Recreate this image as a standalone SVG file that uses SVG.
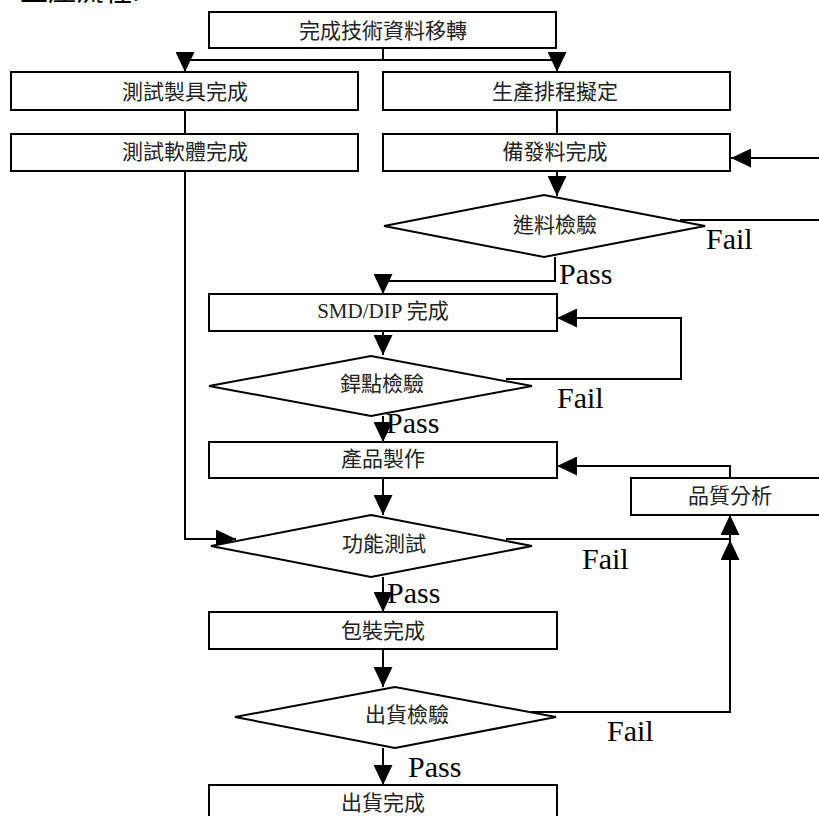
<svg xmlns="http://www.w3.org/2000/svg" width="819" height="816" viewBox="0 0 819 816">
<style>
.box{fill:#fff;stroke:#000;stroke-width:2}
.dia{fill:#fff;stroke:#000;stroke-width:2}
.ln{fill:none;stroke:#000;stroke-width:2}
.arr{fill:none;stroke:#000;stroke-width:2;marker-end:url(#ah)}
.t{font-family:"Liberation Serif","Noto Sans CJK TC",serif;font-size:21px;fill:#222;text-anchor:middle}
.lab{font-family:"Liberation Serif",serif;font-size:30px;fill:#000}
.title{font-family:"Noto Sans CJK TC",sans-serif;font-size:28px;fill:#000}
</style>
<defs>
<marker id="ah" markerUnits="userSpaceOnUse" markerWidth="20" markerHeight="19" refX="20" refY="9.5" orient="auto">
<path d="M0,0 L20,9.5 L0,19 z" fill="#000"/>
</marker>
</defs>
<rect width="819" height="816" fill="#fff"/>
<text class="title" x="20" y="1">生產流程:</text>
<g id="connectors">
<path class="arr" d="M383,48 V60 H185 V72"/>
<path class="arr" d="M383,60 H557 V72"/>
<path class="ln" d="M185,110 V134"/>
<path class="ln" d="M557,110 V134"/>
<path class="arr" d="M557,171 V196"/>
<path class="arr" d="M680,220 H840 V158 H731"/>
<path class="arr" d="M555,257 V281 H383 V294"/>
<path class="arr" d="M383,331 V355"/>
<path class="arr" d="M506,379 H681 V318 H557"/>
<path class="arr" d="M383,416 V442"/>
<path class="arr" d="M383,478 V515"/>
<path class="arr" d="M730,478 V466 H557"/>
<path class="arr" d="M185,171 V539 H236"/>
<path class="arr" d="M506,539 H730 V515"/>
<path class="arr" d="M383,577 V612"/>
<path class="arr" d="M383,649 V687"/>
<path class="arr" d="M531,712 H730 V540"/>
<path class="arr" d="M383,748 V785"/>
</g>
<g id="n1"><rect class="box" x="209" y="12" width="347" height="36"/><text class="t" x="383" y="37.5">完成技術資料移轉</text></g>
<g id="n2"><rect class="box" x="11" y="72" width="347" height="38"/><text class="t" x="185" y="98.5">測試製具完成</text></g>
<g id="n3"><rect class="box" x="383" y="72" width="347" height="38"/><text class="t" x="555" y="98.5">生產排程擬定</text></g>
<g id="n4"><rect class="box" x="11" y="134" width="347" height="37"/><text class="t" x="185" y="158.5">測試軟體完成</text></g>
<g id="n5"><rect class="box" x="383" y="134" width="347" height="37"/><text class="t" x="555" y="158.5">備發料完成</text></g>
<g id="d1"><polygon class="dia" points="384,226 544,195 705,226 544,257"/><text class="t" x="555" y="231.5">進料檢驗</text></g>
<g id="n6"><rect class="box" x="209" y="294" width="348" height="37"/><text class="t" x="383" y="317.5">SMD/DIP 完成</text></g>
<g id="d2"><polygon class="dia" points="209,386 371,356 532,386 371,416"/><text class="t" x="382" y="390.5">銲點檢驗</text></g>
<g id="n7"><rect class="box" x="209" y="442" width="348" height="36"/><text class="t" x="383" y="465.5">產品製作</text></g>
<g id="n8"><rect class="box" x="631" y="478" width="200" height="37"/><text class="t" x="730" y="502.5">品質分析</text></g>
<g id="d3"><polygon class="dia" points="211,546 371,515 532,546 371,577"/><text class="t" x="384" y="550.5">功能測試</text></g>
<g id="n9"><rect class="box" x="209" y="612" width="348" height="37"/><text class="t" x="383" y="637.5">包裝完成</text></g>
<g id="d4"><polygon class="dia" points="235,717 395,687 556,717 395,748"/><text class="t" x="407" y="721.5">出貨檢驗</text></g>
<g id="n10"><rect class="box" x="209" y="785" width="348" height="40"/><text class="t" x="383" y="809.5">出貨完成</text></g>
<g id="labels">
<text class="lab" x="706" y="249">Fail</text>
<text class="lab" x="559" y="284">Pass</text>
<text class="lab" x="557" y="408">Fail</text>
<text class="lab" x="386" y="433">Pass</text>
<text class="lab" x="582" y="569">Fail</text>
<text class="lab" x="387" y="603">Pass</text>
<text class="lab" x="607" y="741">Fail</text>
<text class="lab" x="408" y="777">Pass</text>
</g>
</svg>
